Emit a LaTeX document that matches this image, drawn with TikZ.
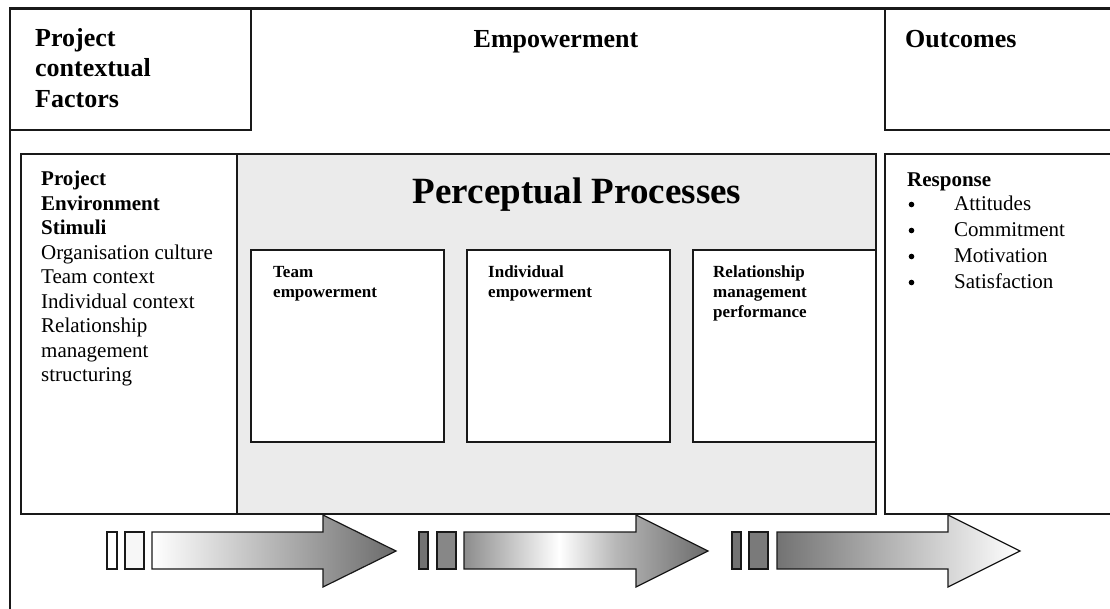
\documentclass[tikz,border=0pt]{standalone}
\usepackage{fontspec}
\setmainfont{Liberation Serif}
% light band a little left of centre, darker at both ends (path spans 25bp..75bp)
\pgfdeclarehorizontalshading{midglow}{100bp}{color(0bp)=(black!45); color(25bp)=(black!45); color(44.5bp)=(white); color(56bp)=(black!28); color(75bp)=(black!58); color(100bp)=(black!58)}
\begin{document}
\begin{tikzpicture}[x=1pt,y=-1pt,
  frame/.style={draw=black!90, line width=1.8pt},
  panel/.style={draw=black!90, line width=1.8pt, rectangle, inner sep=0pt, outer sep=0pt, anchor=north west},
  head/.style={font=\fontsize{26}{30}\selectfont\bfseries, inner sep=0pt, anchor=base west},
  body/.style={font=\fontsize{21}{24.5}\selectfont, inner sep=0pt, anchor=base west},
  bodyb/.style={body, font=\fontsize{21}{24.5}\selectfont\bfseries},
  small/.style={font=\fontsize{17}{20}\selectfont\bfseries, inner sep=0pt, anchor=base west},
  tick/.style={draw=black!90, line width=1.2pt},
  arrowline/.style={draw=black!90, line width=1.2pt}
]
\useasboundingbox (0,0) rectangle (1110,608);

% outer frame, open to the right and bottom
\draw[frame] (1115,8) -- (10,8) -- (10,615);
\draw[draw=black!90, line width=3pt] (10,8.5) -- (1115,8.5);

% top row
\node[panel, minimum width=241, minimum height=122] (factors) at (10,8) {};
\node[panel, minimum width=235, minimum height=122] (outcomes) at (885,8) {};

\node[head] (f1) at (35,46) {Project};
\node[head] (f2) at (35,76.5) {contextual};
\node[head] (f3) at (35,107) {Factors};
\node[head, anchor=base] (emp) at (556,47) {Empowerment};
\node[head] (out) at (905,47) {Outcomes};

% middle row
\node[panel, minimum width=216, minimum height=360] (stimuli) at (21,154) {};
\node[panel, fill=black!8, minimum width=639, minimum height=360] (percep) at (237,154) {};
\node[panel, minimum width=235, minimum height=360] (response) at (885,154) {};

\node[panel, fill=white, minimum width=193, minimum height=192] (team) at (251,250) {};
\node[panel, fill=white, minimum width=203, minimum height=192] (indiv) at (467,250) {};
\node[panel, fill=white, minimum width=183, minimum height=192] (relat) at (693,250) {};

\node[font=\fontsize{37}{40}\selectfont\bfseries, inner sep=0pt, anchor=base] (title) at (577,203) {Perceptual Processes};

\node[small] (t1) at (273,277) {Team};
\node[small] (t2) at (273,297) {empowerment};
\node[small] (i1) at (488,277) {Individual};
\node[small] (i2) at (488,297) {empowerment};
\node[small] (r1) at (713,277) {Relationship};
\node[small] (r2) at (713,297) {management};
\node[small] (r3) at (713,317) {performance};

% stimuli list
\node[bodyb] (s1) at (41,185.5) {Project};
\node[bodyb] (s2) at (41,210) {Environment};
\node[bodyb] (s3) at (41,234.5) {Stimuli};
\node[body] (s4) at (41,259) {Organisation culture};
\node[body] (s5) at (41,283.5) {Team context};
\node[body] (s6) at (41,308) {Individual context};
\node[body] (s7) at (41,332.5) {Relationship};
\node[body] (s8) at (41,357) {management};
\node[body] (s9) at (41,381.5) {structuring};

% response list
\node[bodyb] (rsp) at (907,186) {Response};
\foreach \y/\t [count=\k] in {210.5/Attitudes, 236.5/Commitment, 262.5/Motivation, 288.5/Satisfaction}{
  \node[body] (b\k) at (954,\y) {\t};
  \fill[black] (911.5,\y-6) circle (2.8);
}

% flow arrows along the bottom
\filldraw[tick, fill=white] (107,532) rectangle (117,569);
\filldraw[tick, fill=black!3] (125,532) rectangle (144,569);
\shade[arrowline, left color=white, right color=black!58]
  (152,532) -- (323,532) -- (323,515) -- (396,551) -- (323,587) -- (323,569) -- (152,569) -- cycle;

\filldraw[tick, fill=black!55] (419,532) rectangle (428,569);
\filldraw[tick, fill=black!47] (437,532) rectangle (456,569);
\shade[arrowline, shading=midglow]
  (464,532) -- (636,532) -- (636,515) -- (708,551) -- (636,587) -- (636,569) -- (464,569) -- cycle;

\filldraw[tick, fill=black!55] (732,532) rectangle (741,569);
\filldraw[tick, fill=black!52] (749,532) rectangle (768,569);
\shade[arrowline, left color=black!55, right color=white]
  (777,532) -- (948,532) -- (948,515) -- (1020,551) -- (948,587) -- (948,569) -- (777,569) -- cycle;
\end{tikzpicture}
\end{document}
